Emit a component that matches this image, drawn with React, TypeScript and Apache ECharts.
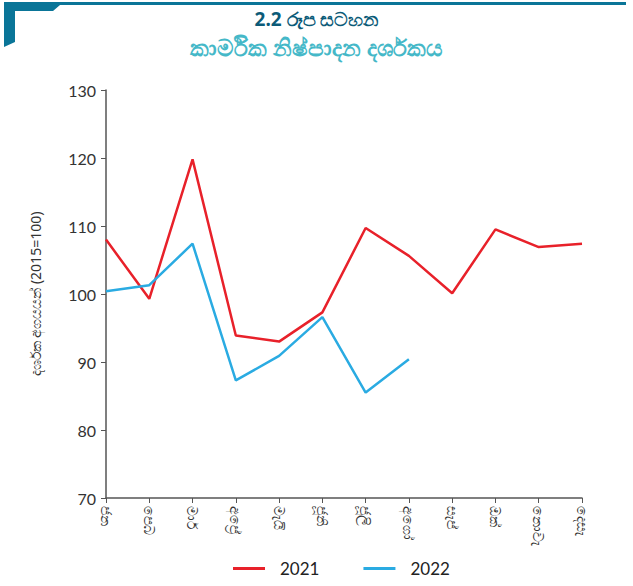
import React, { useEffect, useRef } from "react";
import * as echarts from "echarts";

const months = ["ජන", "පෙබ", "මාර්", "අප්‍රේ", "මැයි", "ජූනි", "ජූලි", "අගෝ", "සැප්", "ඔක්", "නොවැ", "දෙසැ"];
const values2021 = [108.0, 99.3, 119.8, 93.9, 93.0, 97.3, 109.7, 105.6, 100.1, 109.5, 106.9, 107.4];
const values2022 = [100.4, 101.3, 107.4, 87.3, 90.9, 96.6, 85.5, 90.4];
const seriesNames = ["2021", "2022"];
const titleLine1 = "2.2 රූප සටහන";
const titleLine2 = "කාර්මික නිෂ්පාදන දර්ශකය";
const yAxisName = "දර්ශක අගයයන් (2015=100)";

export default function App() {
  const ref = useRef<HTMLDivElement>(null);
  useEffect(() => {
    if (!ref.current) return;
    const chart = echarts.init(ref.current, null, { renderer: "svg" });
    const axisColor = "#555555";
    chart.setOption({
      animation: false,
      backgroundColor: "#ffffff",
      graphic: [
        {
          type: "polygon",
          shape: {
            points: [[4, 2], [626, 2], [626, 5], [60, 5], [53, 11], [15, 11], [15, 42], [4, 47]],
          },
          style: { fill: "#0a7598" },
        },
        {
          type: "text",
          left: "center",
          top: 8,
          style: {
            text: titleLine1,
            fill: "#0c5b78",
            fontSize: 19,
            lineHeight: 22,
            fontWeight: "bold",
            fontFamily: "Noto Sans, sans-serif",
          },
        },
        {
          type: "text",
          left: "center",
          top: 34,
          style: {
            text: titleLine2,
            fill: "#45b8c8",
            fontSize: 23,
            lineHeight: 26,
            fontWeight: "bold",
            fontFamily: "Noto Sans, sans-serif",
          },
        },
      ],
      legend: {
        bottom: 4,
        left: 228,
        itemWidth: 32,
        itemHeight: 3,
        itemGap: 44,
        icon: "rect",
        textStyle: { fontSize: 17, color: "#222", fontFamily: "Lato, sans-serif", padding: [0, 0, 0, 10] },
        data: seriesNames,
      },
      grid: { left: 106, right: 51, top: 90, bottom: 88, containLabel: false },
      xAxis: {
        type: "category",
        data: months,
        boundaryGap: false,
        axisLine: { lineStyle: { color: axisColor, width: 1.5 } },
        axisTick: { show: true, length: 5, alignWithLabel: true, lineStyle: { color: axisColor } },
        axisLabel: {
          rotate: -90,
          color: "#333",
          fontSize: 14,
          margin: 8,
          interval: 0,
          fontFamily: "Noto Sans, sans-serif",
        },
      },
      yAxis: {
        type: "value",
        min: 70,
        max: 130,
        interval: 10,
        name: yAxisName,
        nameLocation: "middle",
        nameGap: 64,
        nameRotate: 90,
        nameTextStyle: { fontSize: 14, color: "#333", fontFamily: "Noto Sans, sans-serif" },
        axisLine: { show: true, lineStyle: { color: axisColor, width: 1.5 } },
        axisTick: { show: true, length: 5, lineStyle: { color: axisColor } },
        splitLine: { show: false },
        axisLabel: { color: "#333", fontSize: 16, margin: 10, fontFamily: "Lato, sans-serif" },
      },
      series: [
        {
          name: seriesNames[0],
          type: "line",
          data: values2021,
          showSymbol: false,
          symbol: "none",
          lineStyle: { color: "#e8212a", width: 2.5 },
          itemStyle: { color: "#e8212a" },
        },
        {
          name: seriesNames[1],
          type: "line",
          data: values2022,
          showSymbol: false,
          symbol: "none",
          lineStyle: { color: "#2aabe2", width: 2.5 },
          itemStyle: { color: "#2aabe2" },
        },
      ],
    });
    return () => chart.dispose();
  }, []);
  return <div ref={ref} style={{ width: 633, height: 586, position: "absolute", left: 0, top: 0 }} />;
}
